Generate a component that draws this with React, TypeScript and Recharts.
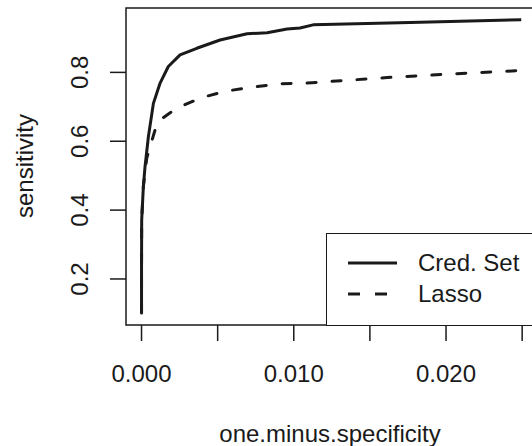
import { LineChart, Line, XAxis, YAxis, ReferenceArea } from 'recharts'

// Cred. Set curve (one minus specificity, sensitivity)
const credX = [0, 0, 0.00001, 0.00012, 0.00023, 0.00045, 0.00078, 0.00122, 0.00176, 0.00253, 0.00363, 0.00516, 0.00693, 0.00825, 0.00956, 0.01041, 0.01127, 0.01764, 0.02494]
const credY = [0.101, 0.226, 0.371, 0.468, 0.526, 0.613, 0.71, 0.769, 0.817, 0.851, 0.87, 0.894, 0.912, 0.915, 0.926, 0.929, 0.938, 0.945, 0.953]

// Lasso curve
const lassoX = [0, 0, 0.00001, 0.00012, 0.00034, 0.00056, 0.00089, 0.00122, 0.00231, 0.00396, 0.0056, 0.00746, 0.0091, 0.01087, 0.01613, 0.02139, 0.02526]
const lassoY = [0.101, 0.226, 0.371, 0.468, 0.55, 0.584, 0.633, 0.662, 0.696, 0.727, 0.746, 0.758, 0.767, 0.769, 0.785, 0.798, 0.806]

const xTicks = [0, 0.005, 0.01, 0.015, 0.02, 0.025]
const xLabelled = [0, 0.01, 0.02]
const yTicks = [0.2, 0.4, 0.6, 0.8]

const xDomain: [number, number] = [-0.00102, 0.0265]
const yDomain: [number, number] = [0.0663, 0.987]

const credData = credX.map((x, i) => ({ x, y: credY[i] }))
const lassoData = lassoX.map((x, i) => ({ x, y: lassoY[i] }))

const FONT = '"Liberation Sans", Arial, Helvetica, sans-serif'
const INK = '#1a1a1a'

function XTick(props: any) {
  const { x, y, payload } = props
  const v = payload.value
  const show = xLabelled.some((t) => Math.abs(t - v) < 1e-9)
  return (
    <g>
      <line x1={x} x2={x} y1={y} y2={y + 16} stroke={INK} strokeWidth={1.5} />
      {show && (
        <text x={x} y={y + 48} textAnchor="middle" dominantBaseline="central" fontSize={24} fill={INK} fontFamily={FONT}>
          {v.toFixed(3)}
        </text>
      )}
    </g>
  )
}

function YTick(props: any) {
  const { x, y, payload } = props
  return (
    <g>
      <line x1={x - 16} x2={x} y1={y} y2={y} stroke={INK} strokeWidth={1.5} />
      <text
        x={x - 46}
        y={y}
        textAnchor="middle"
        dominantBaseline="central"
        fontSize={24}
        fill={INK}
        fontFamily={FONT}
        transform={`rotate(-90 ${x - 46} ${y})`}
      >
        {payload.value.toFixed(1)}
      </text>
    </g>
  )
}

export default function App() {
  return (
    <div style={{ position: 'absolute', left: 0, top: 0, width: 532, height: 446, overflow: 'hidden', background: '#fff' }}>
      <LineChart width={560} height={446} margin={{ top: 8, right: 15, bottom: 0, left: 0 }}>
        <XAxis
          type="number"
          dataKey="x"
          domain={xDomain}
          ticks={xTicks}
          allowDataOverflow
          axisLine={false}
          tickLine={false}
          tickSize={0}
          tickMargin={0}
          height={121}
          tick={<XTick />}
          interval={0}
        />
        <YAxis
          type="number"
          dataKey="y"
          domain={yDomain}
          ticks={yTicks}
          allowDataOverflow
          axisLine={false}
          tickLine={false}
          tickSize={0}
          tickMargin={0}
          width={126}
          tick={<YTick />}
          interval={0}
        />
        <ReferenceArea
          x1={xDomain[0]}
          x2={xDomain[1]}
          y1={yDomain[0]}
          y2={yDomain[1]}
          fill="none"
          fillOpacity={0}
          stroke={INK}
          strokeWidth={1.5}
          ifOverflow="visible"
        />
        <Line
          data={credData}
          dataKey="y"
          type="linear"
          stroke={INK}
          strokeWidth={3}
          strokeLinejoin="round"
          dot={false}
          isAnimationActive={false}
        />
        <Line
          data={lassoData}
          dataKey="y"
          type="linear"
          stroke={INK}
          strokeWidth={3}
          strokeDasharray="9 16"
          strokeLinecap="round"
          strokeLinejoin="round"
          dot={false}
          isAnimationActive={false}
        />
      </LineChart>

      {/* axis titles */}
      <div style={{ position: 'absolute', left: 0, top: 418, width: 660, textAlign: 'center', fontFamily: FONT, fontSize: 24, color: INK, lineHeight: '32px' }}>
        one.minus.specificity
      </div>
      <div
        style={{
          position: 'absolute',
          left: 25,
          top: 166,
          transform: 'translate(-50%, -50%) rotate(-90deg)',
          fontFamily: FONT,
          fontSize: 24,
          color: INK,
          lineHeight: '28px',
          whiteSpace: 'nowrap',
        }}
      >
        sensitivity
      </div>

      {/* legend */}
      <div
        style={{
          position: 'absolute',
          left: 326,
          top: 233,
          width: 260,
          height: 91,
          border: `1.5px solid ${INK}`,
          background: '#fff',
          fontFamily: FONT,
          fontSize: 24,
          color: INK,
        }}
      >
        <svg width={80} height={91} style={{ position: 'absolute', left: 0, top: 0 }}>
          <line x1={21} x2={70} y1={29} y2={29} stroke={INK} strokeWidth={3} />
          <line x1={21} x2={70} y1={60} y2={60} stroke={INK} strokeWidth={3} strokeDasharray="12 15" strokeLinecap="butt" />
        </svg>
        <div style={{ position: 'absolute', left: 91, top: 14, lineHeight: '30px', whiteSpace: 'nowrap' }}>Cred. Set</div>
        <div style={{ position: 'absolute', left: 91, top: 45, lineHeight: '30px', whiteSpace: 'nowrap' }}>Lasso</div>
      </div>
    </div>
  )
}
